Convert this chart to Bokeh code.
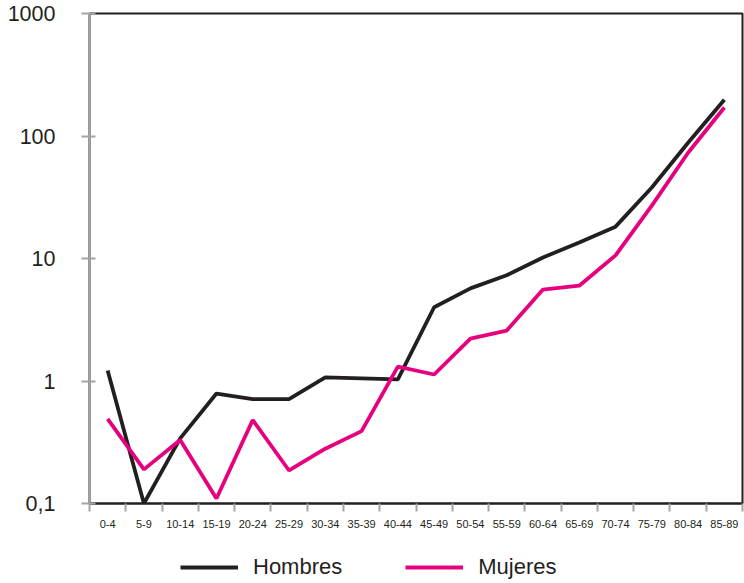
from bokeh.plotting import figure
from bokeh.layouts import column
from bokeh.models import FixedTicker, Legend, LegendItem, Range1d
from bokeh.embed import file_html
from bokeh.resources import INLINE

categories = ["0-4", "5-9", "10-14", "15-19", "20-24", "25-29", "30-34", "35-39",
              "40-44", "45-49", "50-54", "55-59", "60-64", "65-69", "70-74",
              "75-79", "80-84", "85-89"]
hombres = [1.22, 0.10, 0.34, 0.79, 0.71, 0.71, 1.07, 1.05, 1.03, 4.0, 5.7, 7.3,
           10.2, 13.5, 18.2, 38, 88, 198]
mujeres = [0.49, 0.19, 0.33, 0.11, 0.48, 0.186, 0.28, 0.39, 1.31, 1.13, 2.22, 2.58,
           5.58, 6.0, 10.6, 27, 73, 171]
y_ticks = [0.1, 1, 10, 100, 1000]
y_tick_labels = ["0,1", "1", "10", "100", "1000"]
series_names = ["Hombres", "Mujeres"]

FONT = "Liberation Sans"
DARK = "#231f20"
PINK = "#e6007e"
GRAY = "#a3a3a3"

xs = [i + 0.5 for i in range(len(categories))]

p = figure(width=744, height=540, output_backend="svg", toolbar_location=None,
           y_axis_type="log", x_range=Range1d(0, len(categories)),
           y_range=Range1d(0.1, 1000),
           min_border_left=89, min_border_top=13, min_border_right=2,
           min_border_bottom=37)
p.background_fill_color = "white"
p.border_fill_color = "white"
p.outline_line_color = DARK
p.outline_line_width = 2
p.xgrid.visible = False
p.ygrid.visible = False

p.line(xs, hombres, line_color=DARK, line_width=3.8)
p.line(xs, mujeres, line_color=PINK, line_width=3.8)

# x axis
xa = p.xaxis[0]
xa.ticker = FixedTicker(ticks=xs, minor_ticks=list(range(len(categories) + 1)))
xa.major_label_overrides = {x: c for x, c in zip(xs, categories)}
xa.major_tick_line_color = None
xa.major_tick_out = 0
xa.major_tick_in = 0
xa.minor_tick_out = 8
xa.minor_tick_in = 0
xa.minor_tick_line_color = GRAY
xa.minor_tick_line_width = 2
xa.axis_line_color = DARK
xa.axis_line_width = 2
xa.major_label_text_font = FONT
xa.major_label_text_font_size = "11px"
xa.major_label_text_color = DARK
xa.major_label_standoff = 8

# y axis
ya = p.yaxis[0]
ya.ticker = FixedTicker(ticks=y_ticks, minor_ticks=[])
ya.major_label_overrides = {t: l for t, l in zip(y_ticks, y_tick_labels)}
ya.axis_line_color = GRAY
ya.axis_line_width = 2
ya.major_tick_line_color = GRAY
ya.major_tick_line_width = 2
ya.major_tick_out = 8
ya.major_tick_in = 6
ya.minor_tick_line_color = None
ya.major_label_text_font = FONT
ya.major_label_text_font_size = "21.5px"
ya.major_label_text_color = DARK
ya.major_label_standoff = 26

# legend strip below the chart (its lines lie outside its visible range)
lg = figure(width=744, height=43, output_backend="svg", toolbar_location=None,
            x_range=Range1d(0, len(categories)), y_range=Range1d(1e6, 2e6),
            min_border_left=0, min_border_right=0, min_border_top=0,
            min_border_bottom=0)
lg.axis.visible = False
lg.grid.visible = False
lg.outline_line_color = None
lg.border_fill_color = "white"
l1 = lg.line(xs, hombres, line_color=DARK, line_width=4)
l2 = lg.line(xs, mujeres, line_color=PINK, line_width=4)
legend = Legend(items=[LegendItem(label=series_names[0], renderers=[l1]),
                       LegendItem(label=series_names[1], renderers=[l2])],
                orientation="horizontal", location=(91, 3),
                glyph_width=58, glyph_height=20, label_standoff=15, spacing=63,
                padding=0, margin=0, border_line_color=None,
                background_fill_alpha=0,
                label_text_font=FONT, label_text_font_size="22px",
                label_text_color=DARK, label_height=20)
lg.add_layout(legend, "center")

open("out.html", "w").write(file_html(column(p, lg, spacing=0), INLINE))
